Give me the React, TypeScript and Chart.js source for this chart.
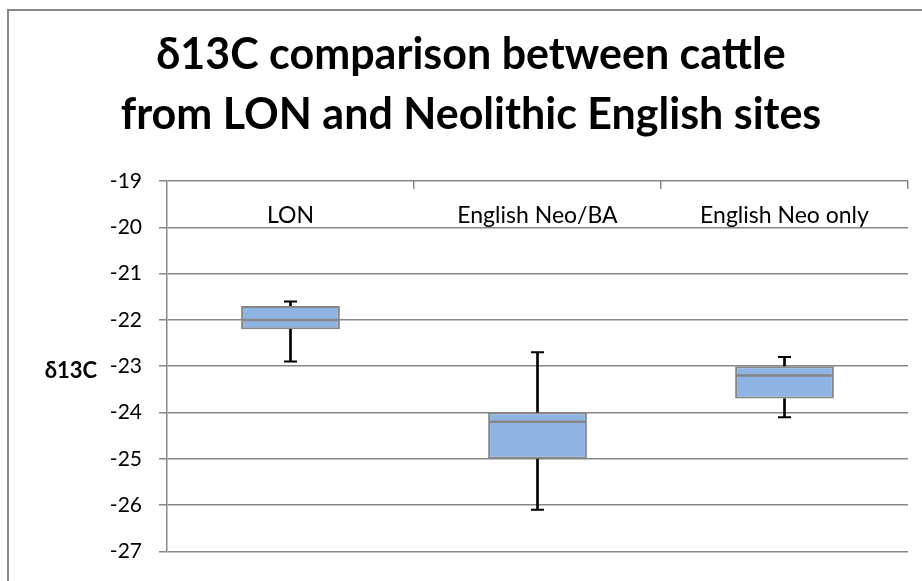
import React, { useEffect, useRef } from "react";
import { Chart, registerables } from "chart.js";

Chart.register(...registerables);

const categories = ["LON", "English Neo/BA", "English Neo only"];
const whiskerMax = [-21.6, -22.7, -22.8];
const q3 = [-21.7, -24.0, -23.0];
const median = [-22.0, -24.2, -23.2];
const q1 = [-22.2, -25.0, -23.7];
const whiskerMin = [-22.9, -26.1, -24.1];
const titleLines = ["δ13C comparison between cattle", "from LON and Neolithic English sites"];
const yTitle = "δ13C";
const yMin = -27;
const yMax = -19;

const GRID = "#878787";
const FONT = "Lato, 'Open Sans', sans-serif";

const decorPlugin = {
  id: "decor",
  beforeDraw(chart: any) {
    const ctx = chart.ctx;
    ctx.save();
    ctx.fillStyle = "#ffffff";
    ctx.fillRect(0, 0, chart.width, chart.height);
    ctx.strokeStyle = GRID;
    ctx.lineWidth = 2;
    ctx.strokeRect(8, 10, 2000, 2000);
    ctx.restore();
  },
  afterDraw(chart: any) {
    const ctx = chart.ctx;
    const xs = chart.scales.x;
    const area = chart.chartArea;
    ctx.save();
    ctx.fillStyle = "#000";
    ctx.textAlign = "center";
    ctx.textBaseline = "alphabetic";
    ctx.font = `bold 43px ${FONT}`;
    ctx.fillText(titleLines[0], 471, 69);
    ctx.fillText(titleLines[1], 471, 129);
    ctx.font = `bold 22px ${FONT}`;
    ctx.textAlign = "right";
    ctx.fillText(yTitle, 97, 378);
    ctx.font = `23px ${FONT}`;
    ctx.textAlign = "center";
    categories.forEach((c, i) => {
      ctx.fillText(c, xs.getPixelForValue(i), 223);
    });
    ctx.strokeStyle = GRID;
    ctx.lineWidth = 1.5;
    for (let i = 0; i < categories.length; i++) {
      const x = Math.round(xs.getPixelForValue(i + 0.5)) - 0.25;
      ctx.beginPath();
      ctx.moveTo(x, area.top);
      ctx.lineTo(x, area.top + 8);
      ctx.stroke();
    }
    ctx.restore();
  },
};

const capStyle = {
  type: "line",
  showLine: false,
  pointStyle: "line",
  pointRadius: 6.5,
  pointBorderWidth: 2,
  borderColor: "#000",
  pointBorderColor: "#000",
  order: 2,
};

const whiskerStyle = {
  type: "bar",
  backgroundColor: "#000",
  borderWidth: 0,
  grouped: false,
  barThickness: 2,
  order: 3,
};

export default function App() {
  const ref = useRef<HTMLCanvasElement | null>(null);
  useEffect(() => {
    if (!ref.current) return;
    const chart = new Chart(ref.current, {
      type: "bar",
      data: {
        labels: categories,
        datasets: [
          {
            type: "line",
            label: "median",
            data: median,
            showLine: false,
            pointStyle: "line",
            pointRadius: 48,
            pointBorderWidth: 2.5,
            borderColor: GRID,
            pointBorderColor: GRID,
            order: 0,
          } as any,
          {
            type: "bar",
            label: "box",
            data: categories.map((_, i) => [q1[i], q3[i]]) as any,
            backgroundColor: "#8EB4E3",
            borderColor: GRID,
            borderWidth: 2,
            borderSkipped: false,
            grouped: false,
            categoryPercentage: 0.4,
            barPercentage: 1,
            order: 1,
          },
          { ...capStyle, label: "capMax", data: whiskerMax } as any,
          { ...capStyle, label: "capMin", data: whiskerMin } as any,
          {
            ...whiskerStyle,
            label: "whiskerUpper",
            data: categories.map((_, i) => [q3[i], whiskerMax[i]]),
          } as any,
          {
            ...whiskerStyle,
            label: "whiskerLower",
            data: categories.map((_, i) => [whiskerMin[i], q1[i]]),
          } as any,
        ],
      },
      options: {
        animation: false,
        responsive: false,
        events: [],
        layout: { autoPadding: false, padding: { left: 0, top: 181, right: 14, bottom: 24 } },
        plugins: {
          legend: { display: false },
          tooltip: { enabled: false },
          title: { display: false },
        },
        scales: {
          x: {
            type: "category",
            display: false,
            offset: true,
            stacked: false,
          },
          y: {
            min: yMin,
            max: yMax,
            ticks: {
              stepSize: 1,
              color: "#000",
              font: { family: FONT, size: 21 },
              padding: 17,
            },
            grid: {
              color: GRID,
              lineWidth: 1.5,
              tickLength: 8,
              drawTicks: true,
            },
            border: { display: true, color: GRID, width: 1.5 },
            afterFit: (scale: any) => {
              scale.width = 167;
            },
          },
        },
      },
      plugins: [decorPlugin],
    });
    return () => chart.destroy();
  }, []);
  return (
    <div style={{ position: "absolute", left: 0, top: 0, width: 922, height: 581 }}>
      <canvas ref={ref} width={922} height={581} style={{ display: "block" }} />
    </div>
  );
}
